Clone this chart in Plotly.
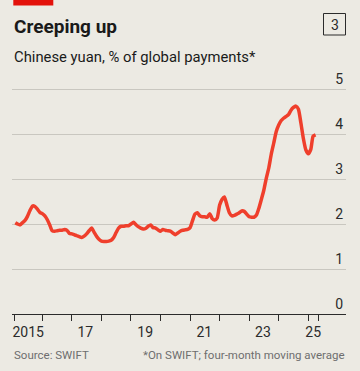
import plotly.graph_objects as go

# ---- data (monthly, four-month moving average, % of global payments) ----
months = [
    "2015-02","2015-03","2015-04","2015-05","2015-06","2015-07","2015-08","2015-09","2015-10","2015-11","2015-12",
    "2016-01","2016-02","2016-03","2016-04","2016-05","2016-06","2016-07","2016-08","2016-09","2016-10","2016-11","2016-12",
    "2017-01","2017-02","2017-03","2017-04","2017-05","2017-06","2017-07","2017-08","2017-09","2017-10","2017-11","2017-12",
    "2018-01","2018-02","2018-03","2018-04","2018-05","2018-06","2018-07","2018-08","2018-09","2018-10","2018-11","2018-12",
    "2019-01","2019-02","2019-03","2019-04","2019-05","2019-06","2019-07","2019-08","2019-09","2019-10","2019-11","2019-12",
    "2020-01","2020-02","2020-03","2020-04","2020-05","2020-06","2020-07","2020-08","2020-09","2020-10","2020-11","2020-12",
    "2021-01","2021-02","2021-03","2021-04","2021-05","2021-06","2021-07","2021-08","2021-09","2021-10","2021-11","2021-12",
    "2022-01","2022-02","2022-03","2022-04","2022-05","2022-06","2022-07","2022-08","2022-09","2022-10","2022-11","2022-12",
    "2023-01","2023-02","2023-03","2023-04","2023-05","2023-06","2023-07","2023-08","2023-09","2023-10","2023-11","2023-12",
    "2024-01","2024-02","2024-03","2024-04","2024-05","2024-06","2024-07","2024-08","2024-09","2024-10","2024-11","2024-12",
    "2025-01","2025-02","2025-03","2025-04",
]
yuan_share = [
    2.03, 2.00, 1.98, 2.03, 2.08, 2.17, 2.30, 2.40, 2.39, 2.33, 2.26,
    2.23, 2.18, 2.10, 1.98, 1.85, 1.84, 1.85, 1.86, 1.86, 1.88, 1.86, 1.79,
    1.78, 1.76, 1.74, 1.72, 1.70, 1.73, 1.78, 1.85, 1.91, 1.82, 1.73, 1.66,
    1.62, 1.61, 1.61, 1.62, 1.64, 1.70, 1.81, 1.91, 1.95, 1.95, 1.96, 1.96,
    2.00, 2.04, 1.99, 1.94, 1.91, 1.89, 1.90, 1.95, 1.98, 1.92, 1.91, 1.87,
    1.84, 1.88, 1.86, 1.85, 1.84, 1.80, 1.76, 1.80, 1.84, 1.86, 1.87, 1.88,
    1.92, 2.08, 2.22, 2.25, 2.18, 2.16, 2.16, 2.15, 2.23, 2.12, 2.09, 2.13,
    2.42, 2.55, 2.60, 2.42, 2.25, 2.18, 2.19, 2.22, 2.25, 2.29, 2.28, 2.22,
    2.16, 2.15, 2.15, 2.20, 2.35, 2.55, 2.75, 3.02, 3.25, 3.55, 3.80, 4.05,
    4.20, 4.30, 4.35, 4.39, 4.43, 4.53, 4.59, 4.62, 4.55, 4.25, 3.90, 3.65,
    3.56, 3.66, 3.95, 3.98,
]
y_ticks = [0, 1, 2, 3, 4, 5]
x_tick_dates = ["2015-01-25", "2016-01-01", "2017-01-01", "2018-01-01", "2019-01-01",
                "2020-01-01", "2021-01-01", "2022-01-01", "2023-01-01", "2024-01-01",
                "2025-01-01", "2025-05-05"]
x_label_dates = ["2015-07-10", "2017-06-15", "2019-06-25", "2021-06-25", "2023-06-20", "2025-03-03"]
x_label_text = ["2015", "17", "19", "21", "23", "25"]

title = "Creeping up"
subtitle = "Chinese yuan, % of global payments*"
source = "Source: SWIFT"
note = "*On SWIFT; four-month moving average"
chart_no = "3"

# ---- style ----
BG = "#ECEAE3"
RED = "#EF3F2C"
DARK = "#2b2b2b"
GRID = "#C9C7C0"
GREY = "#6e6e6e"
FONT = "Roboto"

W, H = 360, 371
L, R, T, B = 12, 14, 71, 57
PW, PH = W - L - R, H - T - B


def px(xp):
    return (xp - L) / PW


def py(yp):
    return (H - B - yp) / PH


x_dates = [m + "-01" for m in months]

fig = go.Figure()
fig.add_trace(go.Scatter(
    x=x_dates, y=yuan_share, mode="lines",
    line=dict(color=RED, width=3.5, shape="spline", smoothing=0.5),
    hoverinfo="skip", showlegend=False,
))

fig.update_layout(
    width=W, height=H,
    margin=dict(l=L, r=R, t=T, b=B, pad=0),
    paper_bgcolor=BG, plot_bgcolor=BG,
    font=dict(family=FONT, color=DARK),
    showlegend=False,
    xaxis=dict(
        type="date", range=["2014-12-22", "2026-04-12"],
        tickmode="array", tickvals=x_label_dates, ticktext=x_label_text,
        ticks="outside", ticklen=5, tickcolor="rgba(0,0,0,0)",
        tickfont=dict(size=14, color=DARK, family=FONT),
        minor=dict(tickmode="array", tickvals=x_tick_dates, ticks="outside",
                   ticklen=6, tickwidth=1, tickcolor=DARK, showgrid=False),
        showline=True, linecolor=DARK, linewidth=1,
        showgrid=False, zeroline=False, anchor="y", fixedrange=True,
    ),
    yaxis=dict(
        range=[0, 5.4], side="right", tickvals=y_ticks,
        ticklabelposition="inside top", ticks="",
        showgrid=True, gridcolor=GRID, gridwidth=1,
        zeroline=False, showline=False,
        tickfont=dict(size=14, color=DARK, family=FONT),
        fixedrange=True,
    ),
)

# header red bar and chart number box
fig.add_shape(type="rect", xref="paper", yref="paper",
              x0=px(13.3), x1=px(53.3), y0=py(5.5), y1=py(0),
              fillcolor="#E3120B", line=dict(width=0))
fig.add_shape(type="rect", xref="paper", yref="paper",
              x0=px(323.5), x1=px(345.5), y0=py(35), y1=py(13.5),
              fillcolor="rgba(0,0,0,0)", line=dict(color=DARK, width=1))

fig.add_annotation(text=chart_no, xref="paper", yref="paper", x=px(334.5), y=py(24.5),
                   xanchor="center", yanchor="middle", showarrow=False,
                   font=dict(size=14, color=DARK, family=FONT))
fig.add_annotation(text="<b>" + title + "</b>", xref="paper", yref="paper",
                   x=px(12), y=py(27), xanchor="left", yanchor="middle", showarrow=False,
                   font=dict(size=19, color="#1a1a1a", family=FONT))
fig.add_annotation(text=subtitle, xref="paper", yref="paper",
                   x=px(12), y=py(57), xanchor="left", yanchor="middle", showarrow=False,
                   font=dict(size=14.8, color="#1a1a1a", family=FONT))
fig.add_annotation(text=source, xref="paper", yref="paper",
                   x=px(12), y=py(355), xanchor="left", yanchor="middle", showarrow=False,
                   font=dict(size=11.5, color=GREY, family=FONT))
fig.add_annotation(text=note, xref="paper", yref="paper",
                   x=px(347), y=py(355), xanchor="right", yanchor="middle", showarrow=False,
                   font=dict(size=11.5, color=GREY, family=FONT))

fig.write_html("out.html",
               config={"displayModeBar": False, "staticPlot": True},
               post_script="document.body.style.margin='0';document.body.style.overflow='hidden';")
